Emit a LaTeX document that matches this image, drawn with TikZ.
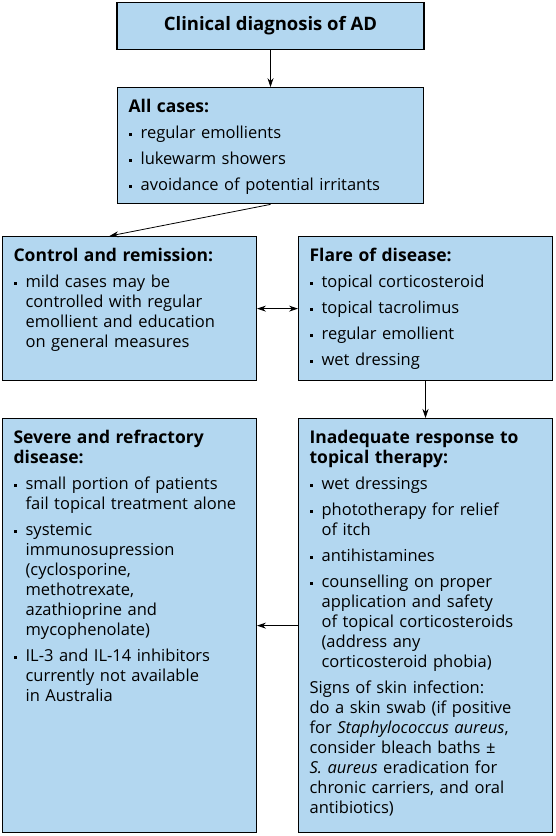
\documentclass[tikz,border=0pt]{standalone}
\usepackage{fontspec}
\setmainfont{Open Sans}
\usetikzlibrary{positioning,arrows.meta}
\definecolor{cardblue}{RGB}{179,215,240}
\tikzset{
head/.style={
  draw,
  fill=cardblue,
  line width=1.2pt,
  minimum width=307pt,
  minimum height=47pt,
  font=\fontsize{18.5}{20}\selectfont\bfseries
  },
card/.style={
  draw,
  fill=cardblue,
  line width=1.2pt,
  align=left,
  inner xsep=0pt,
  inner ysep=12pt,
  text height=13pt,
  font=\fontsize{16.5}{20}\selectfont,
  execute at begin node={\setlength{\parskip}{6pt}\leftskip=11pt\hyphenpenalty=10000\relax}
  }
}
\newcommand{\hd}[1]{{\fontsize{17.5}{20}\selectfont\bfseries #1}}
\newcommand{\itm}[1]{\par\hangindent=12pt\hangafter=1\noindent\makebox[12pt][l]{\raisebox{3pt}{\rule{3pt}{3pt}}}#1\par}

\begin{document}
\begin{tikzpicture}[
    >={Stealth[length=9pt,width=6pt]},
    node distance=37pt
    ]
\useasboundingbox (0pt,0pt) rectangle (555pt,-836pt);
\node[head, anchor=north] (diag) at (270.5pt,-2pt) {Clinical diagnosis of AD};
\node[card, below=of diag, text width=305.8pt, text depth=79pt] (all)
{\hd{All cases:}
\itm{regular emollients}
\itm{lukewarm showers}
\itm{avoidance of potential irritants}};
\node[card, anchor=north west, text width=253.8pt, text depth=107pt] (ctrl) at (2pt,-236pt)
{\hd{Control and remission:}
\itm{mild cases may be\newline controlled with regular\newline emollient and education\newline on general measures}};
\node[card, right=41pt of ctrl, text width=253.8pt, text depth=107pt] (flare)
{\hd{Flare of disease:}
\itm{topical corticosteroid}
\itm{topical tacrolimus}
\itm{regular emollient}
\itm{wet dressing}};
\node[card, anchor=north west, text width=253.8pt, text depth=377pt] (sev) at (2pt,-418pt)
{\hd{Severe and refractory\newline disease:}
\itm{small portion of patients\newline fail topical treatment alone}
\itm{systemic\newline immunosupression\newline (cyclosporine,\newline methotrexate,\newline azathioprine and\newline mycophenolate)}
\itm{IL-3 and IL-14 inhibitors\newline currently not available\newline in Australia}};
\node[card, right=41pt of sev, text width=253.8pt, text depth=377pt] (inad)
{\hd{Inadequate response to\newline topical therapy:}
\itm{wet dressings}
\itm{phototherapy for relief\newline of itch}
\itm{antihistamines}
\itm{counselling on proper\newline application and safety\newline of topical corticosteroids\newline (address any\newline corticosteroid phobia)}
\noindent Signs of skin infection:\newline \mbox{do a skin swab (if positive}\newline for \textit{Staphylococcus aureus},\newline consider bleach baths ±\newline \textit{S. aureus} eradication for\newline chronic carriers, and oral\newline antibiotics)};
% connectors
\draw[->, line width=0.8pt] (diag) -- (all);
\draw[->, line width=0.8pt] (all.south) -- ([xshift=-20pt]ctrl.north);
\draw[<->, line width=0.8pt] (ctrl) -- (flare);
\draw[->, line width=0.8pt] (flare) -- (inad);
\draw[->, line width=0.8pt] (inad) -- (sev);
\end{tikzpicture}
\end{document}
